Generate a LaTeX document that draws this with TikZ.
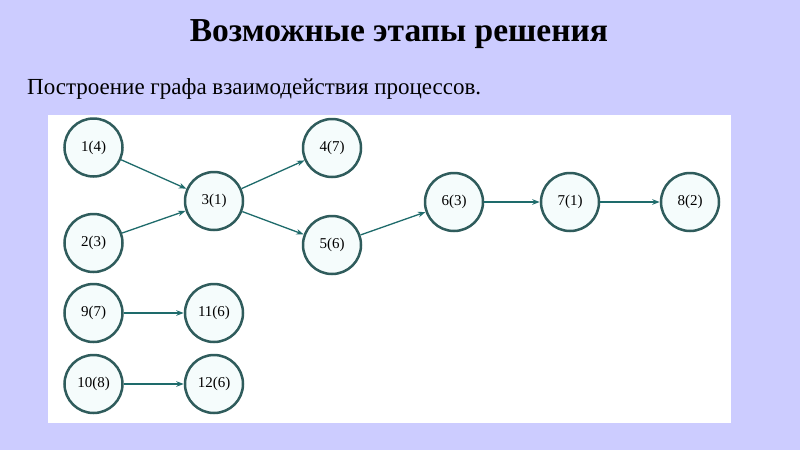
\documentclass[tikz,border=0pt]{standalone}
\usepackage{fontspec}
\setmainfont{Liberation Serif}
\usetikzlibrary{arrows.meta}
\definecolor{bgl}{HTML}{CCCCFF}
\definecolor{ring}{HTML}{2F5C5C}
\definecolor{fillc}{HTML}{F5FCFC}
\definecolor{edgec}{HTML}{1E6B6B}
\tikzset{
  proc/.style={circle, draw=ring, line width=2.5pt, fill=fillc, minimum size=58pt, inner sep=0pt, font=\fontsize{15}{17}\selectfont},
  link/.style={draw=edgec, line width=1.3pt, -{Stealth[length=7.5pt,width=5.5pt]}}
}
\begin{document}
\begin{tikzpicture}[x=1pt,y=-1pt]
\fill[bgl] (0,0) rectangle (800,450);
\useasboundingbox (0,0) rectangle (800,450);
\fill[white] (48,115) rectangle (731,423);
\node[font=\fontsize{33.5}{38}\selectfont\bfseries] (title) at (399,34) {Возможные этапы решения};
\node[anchor=base west, font=\fontsize{23}{27}\selectfont, inner sep=0pt] (sub) at (27,94) {Построение графа взаимодействия процессов.};
\node[proc] (n1) at (93.5,147.5) {1(4)};
\node[proc] (n2) at (93.5,243) {2(3)};
\node[proc] (n3) at (214,201) {3(1)};
\node[proc] (n4) at (332,148) {4(7)};
\node[proc] (n5) at (332,245) {5(6)};
\node[proc] (n6) at (454,202) {6(3)};
\node[proc] (n7) at (570,202) {7(1)};
\node[proc] (n8) at (690,202) {8(2)};
\node[proc] (n9) at (93.5,313) {9(7)};
\node[proc] (n11) at (214,313) {11(6)};
\node[proc] (n10) at (93.5,384) {10(8)};
\node[proc] (n12) at (214,384) {12(6)};
\draw[link] (n1) -- (n3);
\draw[link] (n2) -- (n3);
\draw[link] (n3) -- (n4);
\draw[link] (n3) -- (n5);
\draw[link] (n5) -- (n6);
\draw[link] (n6) -- (n7);
\draw[link] (n7) -- (n8);
\draw[link] (n9) -- (n11);
\draw[link] (n10) -- (n12);
\end{tikzpicture}
\end{document}
